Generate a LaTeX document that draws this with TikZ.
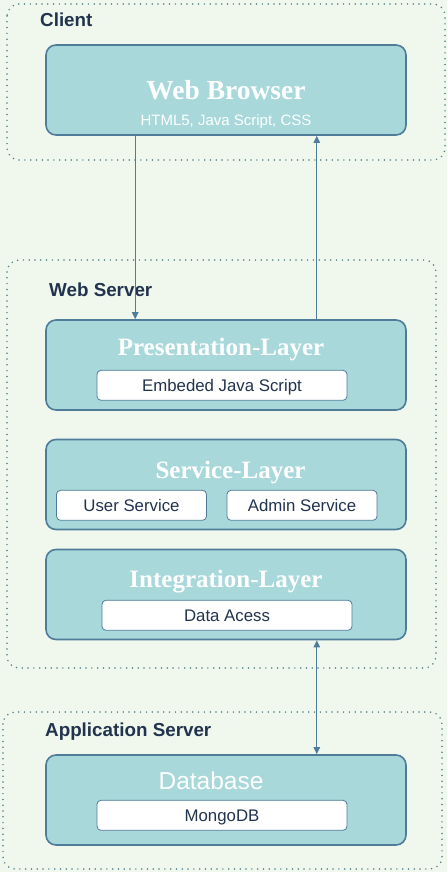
\documentclass[tikz,border=0pt]{standalone}
\usepackage{fontspec}
\setmainfont{Liberation Sans}
\newfontfamily\layerfont{Liberation Serif}
\usetikzlibrary{arrows.meta, positioning}

\definecolor{bgcol}{HTML}{F0F8EE}
\definecolor{boxcol}{HTML}{A8D8DA}
\definecolor{edgecol}{HTML}{4E7C99}
\definecolor{inkcol}{HTML}{22334D}
\definecolor{dotcol}{HTML}{4F7F8A}

\tikzset{
    group/.style={draw=dotcol, line width=1.7pt, line cap=round, dash pattern=on 0pt off 5.8pt, rounded corners=12pt},
    grouplabel/.style={anchor=west, inner sep=0pt, text=inkcol, font=\bfseries\fontsize{18.8}{20}\selectfont, text height=13.4pt, text depth=0pt},
    layer/.style={draw=edgecol, line width=1.6pt, fill=boxcol, rounded corners=10pt, minimum width=360pt, minimum height=90pt, inner sep=0pt},
    title/.style={inner sep=0pt, text=white, font=\layerfont\bfseries\fontsize{25}{26}\selectfont, text height=16.5pt, text depth=0pt},
    item/.style={draw=edgecol, line width=0.8pt, fill=white, rounded corners=4pt, minimum height=30pt, inner sep=0pt, text=inkcol, font=\fontsize{16.8}{18}\selectfont, text height=12pt, text depth=0pt},
    flow/.style={draw=edgecol, line width=1.2pt}
}

\begin{document}
\begin{tikzpicture}[x=1pt, y=-1pt]
    \fill[bgcol] (0,0) rectangle (447,872);
    \useasboundingbox (0,0) rectangle (447,872);

    % groups
    \draw[group] (7,4) rectangle (445,160);
    \draw[group] (7,260) rectangle (436,668);
    \draw[group] (3,712) rectangle (442,869);
    \node[grouplabel] (client) at (40,19.7) {Client};
    \node[grouplabel] (webserver) at (49,289.5) {Web Server};
    \node[grouplabel] (appserver) at (45,729.3) {Application Server};

    % layers
    \node[layer] (browser) at (226,90) {};
    \node[layer] (pres) at (226,365) {};
    \node[layer] (serv) at (226,484.5) {};
    \node[layer] (integ) at (226,594.5) {};
    \node[layer] (db) at (226,800) {};

    \node[title, font=\layerfont\bfseries\fontsize{27.5}{28}\selectfont, text height=18.2pt] (browserT) at (226,90.2) {Web Browser};
    \node[inner sep=0pt, text=white, font=\fontsize{15}{16}\selectfont, text height=10.7pt, text depth=0pt] (browserS) at (226,119.7) {HTML5, Java Script, CSS};
    \node[title] (presT) at (221,347.3) {Presentation-Layer};
    \node[title] (servT) at (230.5,470) {Service-Layer};
    \node[title] (integT) at (226,579) {Integration-Layer};
    \node[title, font=\fontsize{24.5}{26}\selectfont, text height=17.5pt] (dbT) at (211,781) {Database};

    % components
    \node[item, minimum width=250pt] (js) at (222,385.3) {Embeded Java Script};
    \node[item, minimum width=150pt] (user) at (131.5,505.3) {User Service};
    \node[item, minimum width=150pt] (admin) at (302,505.3) {Admin Service};
    \node[item, minimum width=250pt] (access) at (227,615.3) {Data Acess};
    \node[item, minimum width=250pt] (mongo) at (222,815.3) {MongoDB};

    % connectors
    \draw[flow, -{Triangle[length=7pt, width=6.5pt]}] ([xshift=90pt]browser.south west) -- ([xshift=90pt]pres.north west);
    \draw[flow, -{Triangle[length=7pt, width=6.5pt]}] ([xshift=-90pt]pres.north east) -- ([xshift=-90pt]browser.south east);
    \draw[flow, {Triangle[length=7pt, width=6.5pt]}-{Triangle[length=7pt, width=6.5pt]}] ([xshift=-90pt]integ.south east) -- ([xshift=-90pt]db.north east);
\end{tikzpicture}
\end{document}
